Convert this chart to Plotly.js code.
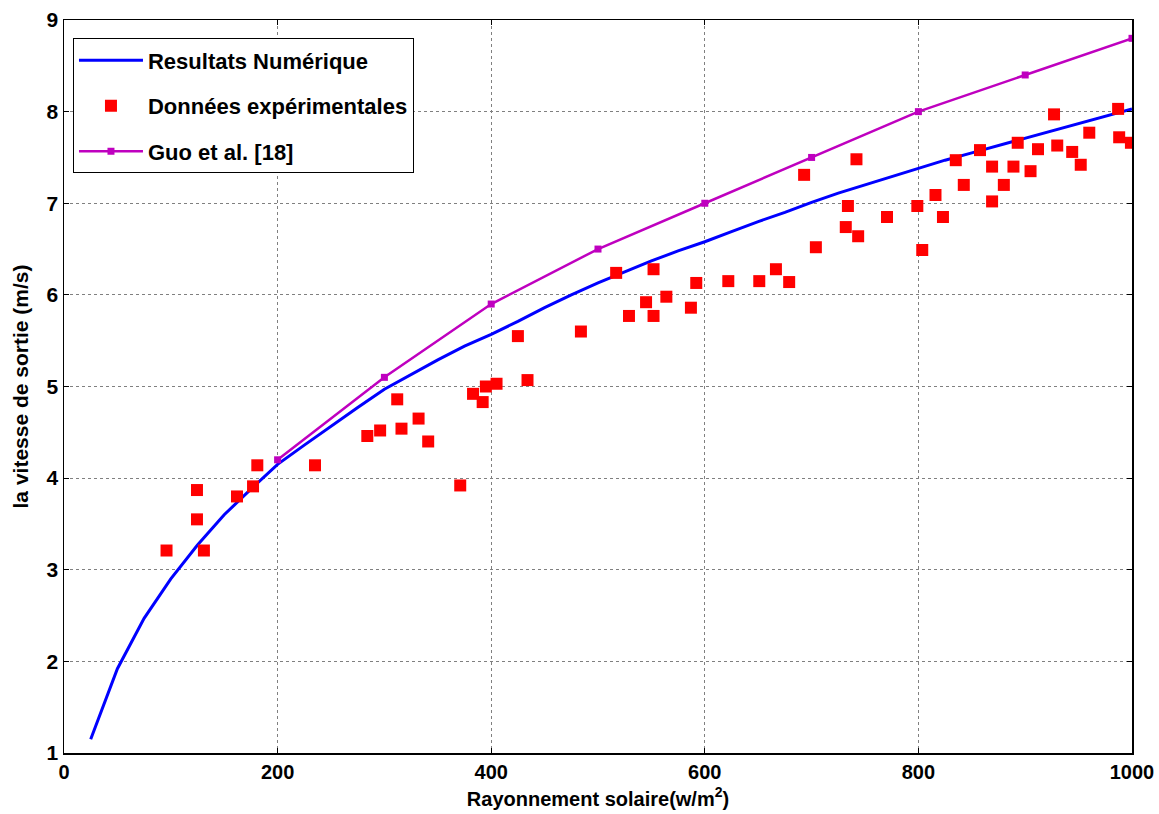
<!DOCTYPE html>
<html>
<head>
<meta charset="utf-8">
<script src="https://cdn.plot.ly/plotly-3.0.1.min.js"></script>
<style>html,body{margin:0;padding:0;background:#fff;}#chart{width:1159px;height:814px;}</style>
</head>
<body>
<div id="chart"></div>
<script>
// Numerical results (blue line)
const numX = [25,50,75,100,125,150,175,200,225,250,275,300,325,350,375,400,425,450,475,500,525,550,575,600,625,650,675,700,725,750,775,800,825,850,875,900,925,950,975,1000];
const numY = [1.15,1.92,2.47,2.9,3.27,3.6,3.88,4.15,4.36,4.57,4.77,4.97,5.13,5.29,5.44,5.57,5.71,5.86,6.0,6.13,6.25,6.37,6.48,6.58,6.69,6.80,6.90,7.01,7.11,7.20,7.29,7.38,7.47,7.55,7.63,7.71,7.79,7.87,7.95,8.03];

// Experimental data (red squares)
const expX = [96,124.5,124.5,131,162,177,181,235,284,296,312,316,332,341,371,383,392,395,405,425,434,484,517,529,545,552,552,564,587,592,622,651,666.6,679,693,704,732,734,742,743.6,770.6,799,803.6,816,823,835,842.5,857.7,869,869,880,889,893,905,912,927,930,944,952,960,987,988,999];
const expY = [3.21,3.87,3.55,3.21,3.80,3.91,4.14,4.14,4.46,4.52,4.86,4.54,4.65,4.40,3.92,4.92,4.83,5.0,5.03,5.55,5.07,5.6,6.24,5.77,5.92,6.28,5.77,5.98,5.86,6.13,6.15,6.15,6.28,6.14,7.31,6.52,6.74,6.97,7.48,6.64,6.85,6.97,6.49,7.09,6.85,7.47,7.20,7.58,7.40,7.02,7.20,7.40,7.66,7.35,7.59,7.97,7.63,7.56,7.42,7.77,8.03,7.72,7.66];

// Guo et al. [18] (magenta)
const guoX = [200,300,400,500,600,700,800,900,1000];
const guoY = [4.2,5.1,5.9,6.5,7.0,7.5,8.0,8.4,8.8];

const FAM = 'Liberation Sans, Arial, sans-serif';

const traces = [
  {x: numX, y: numY, mode: 'lines', name: 'Resultats Numérique', legendgroup: 'a',
   line: {color: '#0000ff', width: 3}},
  {x: expX, y: expY, mode: 'markers', name: 'Données expérimentales', legendgroup: 'b',
   marker: {symbol: 'square', color: '#ff0000', size: 12}},
  {x: guoX, y: guoY, mode: 'lines+markers', name: 'Guo et al. [18]', legendgroup: 'c',
   line: {color: '#bf00bf', width: 2.5}, marker: {symbol: 'square', color: '#bf00bf', size: 7}}
];

const axisCommon = {
  showline: true, linecolor: '#000', linewidth: 1.5, mirror: 'ticks',
  ticks: 'inside', ticklen: 5, tickcolor: '#000',
  showgrid: true, gridcolor: '#808080', griddash: 'dot', gridwidth: 1,
  zeroline: false
};

const layout = {
  width: 1159, height: 814,
  margin: {l: 64, r: 27, t: 20, b: 61},
  paper_bgcolor: '#fff', plot_bgcolor: '#fff',
  showlegend: true,
  legend: {
    x: 0.0084, y: 0.975, xanchor: 'left', yanchor: 'top',
    bgcolor: '#fff', bordercolor: '#000', borderwidth: 1,
    font: {family: FAM, size: 22, color: '#000', weight: 'bold'},
    traceorder: 'grouped', tracegroupgap: 14, itemwidth: 64
  },
  xaxis: Object.assign({}, axisCommon, {
    range: [0, 1000], dtick: 200, tick0: 0,
    tickfont: {family: FAM, size: 20, color: '#000', weight: 'bold'},
    title: {text: 'Rayonnement solaire(w/m<sup>2</sup>)', standoff: 10,
            font: {family: FAM, size: 20, color: '#000', weight: 'bold'}}
  }),
  yaxis: Object.assign({}, axisCommon, {
    range: [1, 9], dtick: 1, tick0: 1,
    tickfont: {family: FAM, size: 21, color: '#000', weight: 'bold'},
    title: {text: 'la vitesse de sortie (m/s)', standoff: 12,
            font: {family: FAM, size: 21, color: '#000', weight: 'bold'}}
  })
};

Plotly.newPlot('chart', traces, layout, {displayModeBar: false, staticPlot: true});
</script>
</body>
</html>
